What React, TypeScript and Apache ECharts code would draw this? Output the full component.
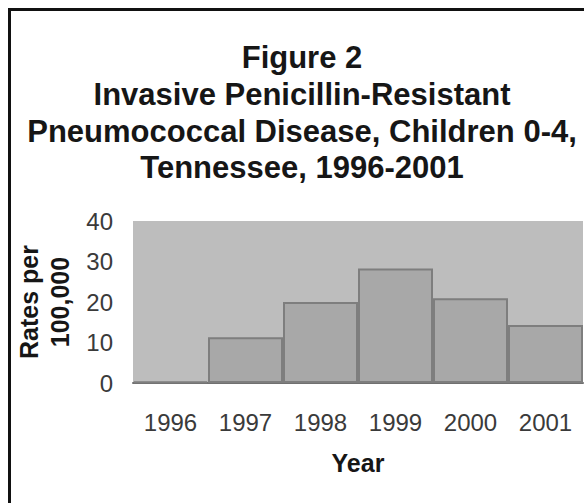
import React, { useEffect, useRef } from "react";
import * as echarts from "echarts";

const years: string[] = ["1996", "1997", "1998", "1999", "2000", "2001"];
const rates: number[] = [0.4, 11.3, 20, 28.3, 20.9, 14.3];
const titleLines: string[] = [
  "Figure 2",
  "Invasive Penicillin-Resistant",
  "Pneumococcal Disease, Children 0-4,",
  "Tennessee, 1996-2001",
];
const yAxisName = "Rates per\n100,000";
const xAxisName = "Year";

const FONT = "'Liberation Sans', Arial, Helvetica, sans-serif";

export default function App() {
  const ref = useRef<HTMLDivElement>(null);
  useEffect(() => {
    if (!ref.current) return;
    const chart = echarts.init(ref.current, null, { renderer: "svg" });
    const titleY = [57.5, 94, 131, 167];
    chart.setOption({
      animation: false,
      backgroundColor: "#ffffff",
      graphic: [
        {
          type: "rect",
          shape: { x: 9.5, y: 9.5, width: 1000, height: 1000 },
          style: { fill: "none", stroke: "#111111", lineWidth: 3 },
          silent: true,
        },
        ...titleLines.map((t, i) => ({
          type: "text",
          x: 302,
          y: titleY[i],
          style: {
            text: t,
            fontFamily: FONT,
            fontWeight: "bold",
            fontSize: 31,
            fill: "#161616",
            align: "center",
            verticalAlign: "middle",
          },
        })),
      ],
      grid: {
        left: 133,
        top: 221,
        right: 1,
        bottom: 120,
        show: true,
        backgroundColor: "#bdbdbd",
        borderWidth: 0,
      },
      xAxis: {
        type: "category",
        data: years,
        name: xAxisName,
        nameLocation: "middle",
        nameGap: 67,
        nameTextStyle: {
          fontFamily: FONT,
          fontWeight: "bold",
          fontSize: 25,
          color: "#161616",
        },
        axisLine: { show: true, lineStyle: { color: "#707070", width: 2 } },
        axisTick: { show: false },
        axisLabel: {
          margin: 27,
          fontFamily: FONT,
          fontSize: 24,
          color: "#3a3a3a",
        },
      },
      yAxis: {
        type: "value",
        min: 0,
        max: 40,
        interval: 10,
        name: yAxisName,
        nameLocation: "middle",
        nameGap: 58,
        nameTextStyle: {
          fontFamily: FONT,
          fontWeight: "bold",
          fontSize: 25,
          lineHeight: 31,
          color: "#161616",
          align: "center",
        },
        axisLine: { show: false },
        axisTick: { show: false },
        splitLine: { show: false },
        axisLabel: {
          margin: 20,
          fontFamily: FONT,
          fontSize: 24,
          color: "#3a3a3a",
        },
      },
      series: [
        {
          type: "bar",
          data: rates,
          barCategoryGap: "0%",
          itemStyle: {
            color: "#a8a8a8",
            borderColor: "#7e7e7e",
            borderWidth: 2,
          },
        },
      ],
    });
    return () => chart.dispose();
  }, []);
  return (
    <div
      ref={ref}
      style={{ position: "fixed", left: 0, top: 0, width: 584, height: 503 }}
    />
  );
}
